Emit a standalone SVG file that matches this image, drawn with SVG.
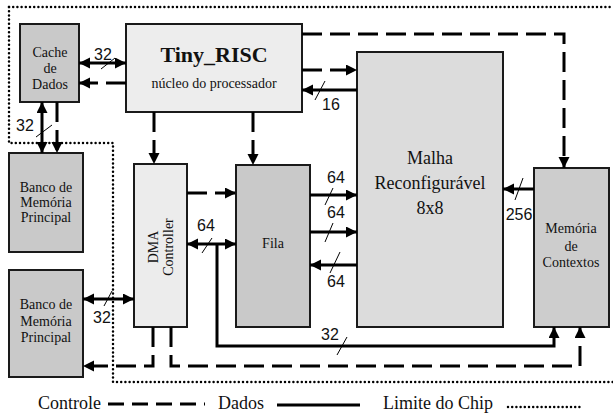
<svg xmlns="http://www.w3.org/2000/svg" width="613" height="415" viewBox="0 0 613 415">
<style>
.box{stroke:#1a1a1a;stroke-width:2}
.t{font-family:"Liberation Serif","Times New Roman",serif;font-size:14px;fill:#111;text-anchor:middle}
.n{font-family:"Liberation Sans",Arial,sans-serif;font-size:16px;fill:#111;text-anchor:middle}
.d{fill:none;stroke:#000;stroke-width:3}
.c{fill:none;stroke:#000;stroke-width:3;stroke-dasharray:20,8}
.s{stroke:#000;stroke-width:1}
.dot{fill:none;stroke:#000;stroke-width:2.5;stroke-linecap:round;stroke-dasharray:0,4.2}
.lg{font-family:"Liberation Serif","Times New Roman",serif;font-size:18px;fill:#111}
</style>
<defs>
<marker id="ah" markerUnits="userSpaceOnUse" markerWidth="12" markerHeight="12" refX="11" refY="5.5" orient="auto-start-reverse">
<path d="M0,0 L11,5.5 L0,11 z" fill="#000"/>
</marker>
</defs>
<rect width="613" height="415" fill="#fff"/>

<g id="chip-limit">
<path class="dot" d="M9,7 H613"/>
<path class="dot" d="M9,7 V143 H113 V382 H613"/>
</g>

<g id="cache">
<rect class="box" x="20" y="24" width="59" height="78" fill="#c9c9c9"/>
<text class="t" x="50" y="57">Cache</text>
<text class="t" x="50" y="73">de</text>
<text class="t" x="50" y="89">Dados</text>
</g>

<g id="tiny-risc">
<rect class="box" x="126" y="24" width="176" height="88" fill="#ededed"/>
<text x="214" y="62" style="font-family:'Liberation Serif','Times New Roman',serif;font-size:22px;font-weight:bold;fill:#111;text-anchor:middle">Tiny_RISC</text>
<text class="t" x="214" y="88">núcleo do processador</text>
</g>

<g id="malha">
<rect class="box" x="357" y="52" width="146" height="275" fill="#dcdcdc"/>
<text class="t" x="430" y="164" style="font-size:18px">Malha</text>
<text class="t" x="430" y="189" style="font-size:18px">Reconfigurável</text>
<text class="t" x="430" y="214" style="font-size:18px">8x8</text>
</g>

<g id="contextos">
<rect class="box" x="534" y="168" width="75" height="159" fill="#cdcdcd"/>
<text class="t" x="571" y="233">Memória</text>
<text class="t" x="571" y="251">de</text>
<text class="t" x="571" y="267">Contextos</text>
</g>

<g id="fila">
<rect class="box" x="236" y="165" width="74" height="162" fill="#c9c9c9"/>
<text class="t" x="273" y="248">Fila</text>
</g>

<g id="dma">
<rect class="box" x="134" y="164" width="53" height="163" fill="#ececec"/>
<text class="t" transform="translate(158,247) rotate(-90)">DMA</text>
<text class="t" transform="translate(173,247) rotate(-90)">Controller</text>
</g>

<g id="banco1">
<rect class="box" x="9" y="153" width="74" height="99" fill="#c9c9c9"/>
<text class="t" x="46" y="192">Banco de</text>
<text class="t" x="46" y="207">Memória</text>
<text class="t" x="46" y="222">Principal</text>
</g>

<g id="banco2">
<rect class="box" x="9" y="270" width="74" height="107" fill="#c9c9c9"/>
<text class="t" x="46" y="309">Banco de</text>
<text class="t" x="46" y="326">Memória</text>
<text class="t" x="46" y="342">Principal</text>
</g>

<g id="connectors">
<path class="d" d="M79,63 H126" marker-start="url(#ah)" marker-end="url(#ah)"/>
<line class="s" x1="101" y1="69" x2="115" y2="58"/>
<text class="n" x="103" y="60">32</text>

<path class="c" d="M126,83 H79" marker-end="url(#ah)"/>

<path class="d" d="M42,102 V153" marker-start="url(#ah)" marker-end="url(#ah)"/>
<line class="s" x1="36" y1="137" x2="52" y2="125"/>
<text class="n" x="25" y="131">32</text>

<path class="c" d="M57,102 V153" marker-end="url(#ah)"/>
<path class="c" d="M154,112 V164" marker-end="url(#ah)"/>
<path class="c" d="M253,112 V165" marker-end="url(#ah)"/>
<path class="c" d="M302,70 H357" marker-end="url(#ah)"/>

<path class="d" d="M357,90 H302" marker-end="url(#ah)"/>
<line class="s" x1="315" y1="100" x2="325" y2="81"/>
<text class="n" x="331" y="110">16</text>

<path class="c" d="M302,34 H564 V168" marker-end="url(#ah)"/>

<path class="c" d="M187,193 H236" marker-end="url(#ah)"/>

<path class="d" d="M187,244 H236" marker-start="url(#ah)" marker-end="url(#ah)"/>
<line class="s" x1="202" y1="253" x2="212" y2="238"/>
<text class="n" x="206" y="231">64</text>

<path class="d" d="M217,244 V346 H554 V327" marker-end="url(#ah)"/>
<line class="s" x1="337" y1="355" x2="347" y2="337"/>
<text class="n" x="330" y="340">32</text>

<path class="d" d="M83,299 H134" marker-start="url(#ah)" marker-end="url(#ah)"/>
<line class="s" x1="104" y1="306" x2="112" y2="291"/>
<text class="n" x="102" y="323">32</text>

<path class="c" d="M153,327 V366 H83" marker-end="url(#ah)"/>
<path class="c" d="M171,327 V366 H580 V327" marker-end="url(#ah)"/>

<path class="d" d="M310,195 H357" marker-end="url(#ah)"/>
<line class="s" x1="325" y1="205" x2="333" y2="188"/>
<text class="n" x="336" y="183">64</text>

<path class="d" d="M310,232 H357" marker-end="url(#ah)"/>
<line class="s" x1="325" y1="242" x2="333" y2="223"/>
<text class="n" x="336" y="218">64</text>

<path class="d" d="M357,265 H310" marker-end="url(#ah)"/>
<line class="s" x1="330" y1="273" x2="340" y2="252"/>
<text class="n" x="336" y="287">64</text>

<path class="d" d="M534,189 H503" marker-end="url(#ah)"/>
<line class="s" x1="515" y1="200" x2="523" y2="178"/>
<text class="n" x="519" y="220">256</text>
</g>

<g id="legend">
<text class="lg" x="38" y="409">Controle</text>
<path class="c" d="M108,404 H205" style="stroke-dasharray:16,8"/>
<text class="lg" x="218" y="409">Dados</text>
<path class="d" d="M277,405 H360"/>
<text class="lg" x="383" y="409">Limite do Chip</text>
<path class="dot" d="M508,407 H582"/>
</g>
</svg>
